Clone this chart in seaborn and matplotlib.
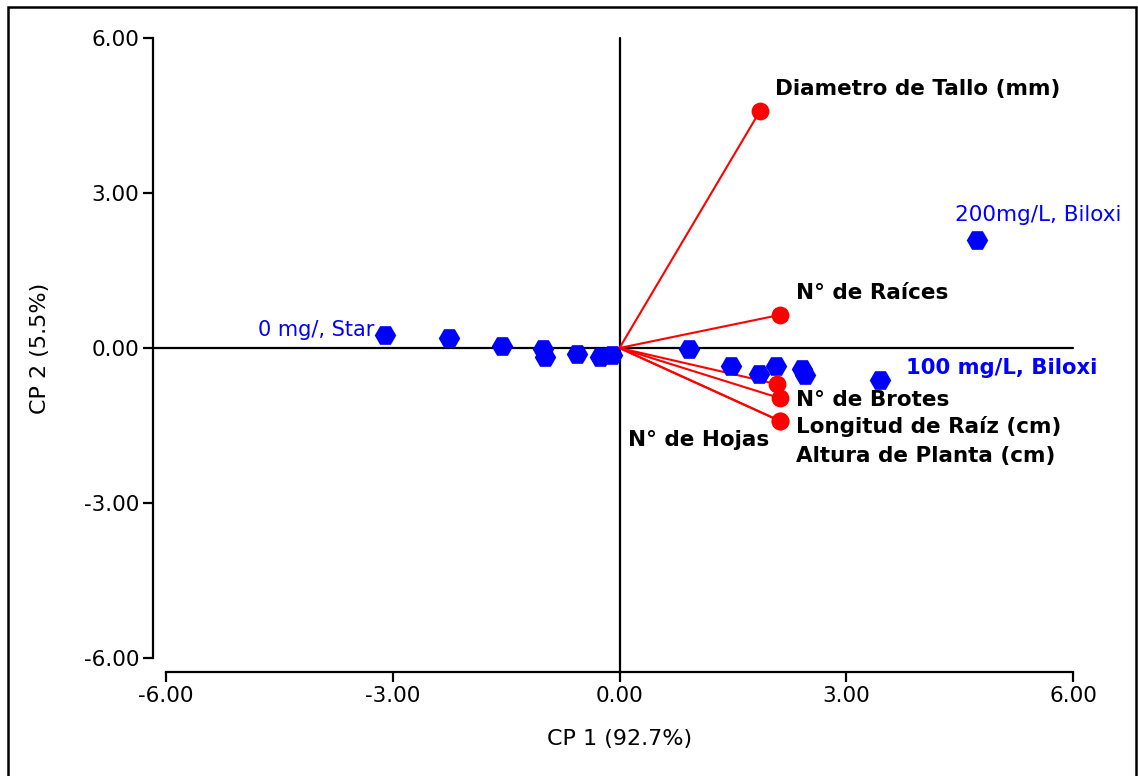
import matplotlib
matplotlib.use("Agg")
import matplotlib.pyplot as plt
from matplotlib.patches import Rectangle
import seaborn as sns
import pandas as pd

# PCA scores of the treatments
score_pc1 = [-3.10, -2.26, -1.55, -1.01, -0.99, -0.56, -0.26, -0.10,
             0.92, 1.47, 1.85, 2.07, 2.41, 2.46, 3.45, 4.73]
score_pc2 = [0.25, 0.19, 0.04, -0.02, -0.17, -0.12, -0.17, -0.14,
             -0.02, -0.35, -0.50, -0.35, -0.41, -0.52, -0.62, 2.09]

# Variable loadings (scaled)
variables = ["Diametro de Tallo (mm)", "N° de Raíces", "N° de Hojas",
             "N° de Brotes", "Longitud de Raíz (cm)", "Altura de Planta (cm)"]
load_pc1 = [1.86, 2.12, 2.08, 2.12, 2.12, 2.12]
load_pc2 = [4.59, 0.64, -0.70, -0.97, -1.41, -1.41]

axis_ticks = [-6.0, -3.0, 0.0, 3.0, 6.0]
xlabel = "CP 1 (92.7%)"
ylabel = "CP 2 (5.5%)"

scores = pd.DataFrame({"pc1": score_pc1, "pc2": score_pc2})
loadings = pd.DataFrame({"var": variables, "pc1": load_pc1, "pc2": load_pc2})

sns.set_theme(style="white")
plt.rcParams["font.family"] = ["DejaVu Sans"]

W, H = 1138, 776
fig = plt.figure(figsize=(W / 100, H / 100), dpi=100)
ax = fig.add_axes([166 / W, 118 / H, (1073 - 166) / W, (658 - 38) / H])
ax.set_xlim(-6, 6)
ax.set_ylim(-6, 6)

# Reference lines through the origin
ax.plot([-6.175, 6.0], [0, 0], color="black", lw=1.6, clip_on=False, zorder=1)
ax.plot([0, 0], [-6.27, 6.0], color="black", lw=1.6, clip_on=False, zorder=1)

# Loading vectors
for x, y in zip(loadings["pc1"], loadings["pc2"]):
    ax.plot([0, x], [0, y], color="red", lw=1.5, zorder=2)
sns.scatterplot(data=loadings, x="pc1", y="pc2", ax=ax, color="red",
                marker="o", s=165, edgecolor="red", linewidth=0, zorder=4,
                legend=False)

# Treatment scores
sns.scatterplot(data=scores, x="pc1", y="pc2", ax=ax, color="blue",
                marker="H", s=240, edgecolor="blue", linewidth=0, zorder=3,
                legend=False)

# Variable labels
bold_kw = dict(fontsize=15.5, fontweight="bold", color="black", va="center",
               ha="left")
ax.text(2.06, 5.01, "Diametro de Tallo (mm)", **bold_kw)
ax.text(2.33, 1.06, "N° de Raíces", **bold_kw)
ax.text(2.33, -1.01, "N° de Brotes", **bold_kw)
ax.text(2.33, -1.51, "Longitud de Raíz (cm)", **bold_kw)
ax.text(2.33, -2.09, "Altura de Planta (cm)", **bold_kw)
ax.text(0.11, -1.78, "N° de Hojas", **bold_kw)

# Treatment labels
ax.text(-3.24, 0.35, "0 mg/, Star", fontsize=15, color="blue",
        va="center", ha="right")
ax.text(4.44, 2.57, "200mg/L, Biloxi", fontsize=15.5, color="blue",
        va="center", ha="left")
ax.text(3.79, -0.39, "100 mg/L, Biloxi", fontsize=15.2, fontweight="bold",
        color="blue", va="center", ha="left")

# Axes styling: offset spines, outward ticks
for side in ("top", "right"):
    ax.spines[side].set_visible(False)
ax.spines["left"].set_position(("outward", 13 * 0.72))
ax.spines["bottom"].set_position(("outward", 14 * 0.72))
for side in ("left", "bottom"):
    ax.spines[side].set_color("black")
    ax.spines[side].set_linewidth(1.6)
ax.set_xticks(axis_ticks)
ax.set_yticks(axis_ticks)
ax.set_xticklabels([f"{t:.2f}" for t in axis_ticks])
ax.set_yticklabels([f"{t:.2f}" for t in axis_ticks])
ax.tick_params(axis="both", direction="out", length=7, width=1.6,
               color="black", labelsize=15.5, labelcolor="black",
               bottom=True, left=True, pad=3)
ax.set_xlabel(xlabel, fontsize=16, color="black", labelpad=17)
ax.set_ylabel(ylabel, fontsize=16, color="black", labelpad=24)

# Outer frame
fig.patches.append(Rectangle((8 / W, -10 / H), (1136 - 8) / W, (769 + 10) / H,
                             transform=fig.transFigure, fill=False,
                             edgecolor="black", lw=1.8))

fig.savefig("out.png", dpi=100)
